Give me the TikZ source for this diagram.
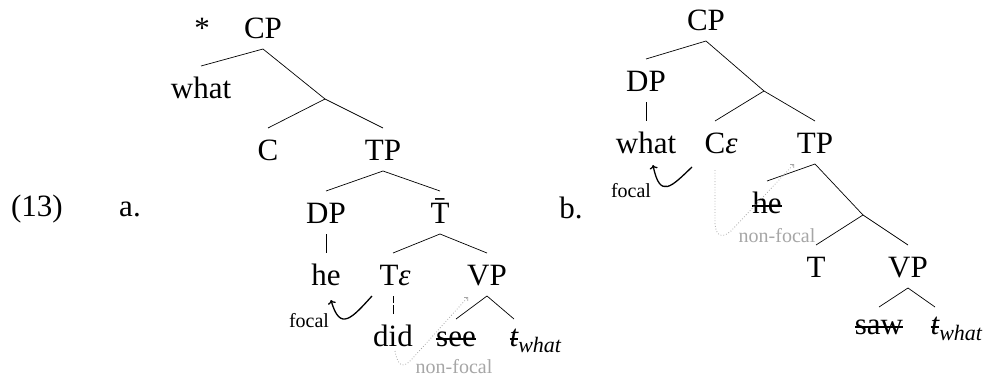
\documentclass[tikz,border=0pt]{standalone}
\usepackage{fontspec}
\setmainfont{Liberation Serif}
\usetikzlibrary{arrows.meta}
\newcommand{\strk}[1]{\setbox0\hbox{#1}\rlap{\raisebox{0.2em}{\rule{\wd0}{0.05em}}}\box0}
\newcommand{\twhat}{{\itshape\strk{t}\rlap{\raisebox{-0.22em}{\fontsize{22}{26}\selectfont what}}}}
\newcommand{\eps}[1]{#1\rlap{\itshape ε}}
\begin{document}
\begin{tikzpicture}[x=1pt,y=-1pt,
  lab/.style={font=\fontsize{31}{37}\selectfont, inner sep=0pt, anchor=base,
    text height=21pt, text depth=0pt, outer xsep=0pt, outer ysep=11pt},
  leaf/.style={lab, outer ysep=6pt},
  small/.style={font=\fontsize{20}{24}\selectfont, inner sep=0pt, anchor=base},
  br/.style={line width=0.7pt},
  focalarrow/.style={line width=1.3pt, -{To[length=4pt,width=8pt]}},
  nonfocal/.style={black!35, dotted, line width=0.8pt, -{Straight Barb[length=2.5pt,width=5pt]}},
  nftext/.style={small, text=black!35}
]
\useasboundingbox (0,0) rectangle (989,378);

% labels
\node[lab, outer ysep=0pt] (num) at (37,216) {(13)};
\node[lab, outer ysep=0pt] (la) at (130,216) {a.};
\node[lab, outer ysep=0pt] (lb) at (571,218) {b.};

% ---------- tree a ----------
\node[lab] (star) at (202,38) {*};
\node[lab] (CPa) at (263,38) {CP};
\node[lab] (whata) at (201,98) {what};
\coordinate (ia) at (325,99);
\node[lab] (Ca) at (268,160) {C};
\node[lab] (TPa) at (383,160) {TP};
\node[lab] (DPa) at (326,223) {DP};
\node[lab] (Tbar) at (440,223) {\=T};
\node[lab] (hea) at (326,285) {he};
\node[lab] (Tea) at (389,285) {\eps{T}};
\node[lab] (VPa) at (487,285) {VP};
\node[lab] (did) at (393,346) {did};
\node[leaf] (see) at (456,346) {\strk{see}};
\node[leaf] (twa) at (514,346) {\twhat};

\draw[br] (whata.north) -- (CPa.south) -- (ia);
\draw[br] (Ca.north) -- (ia) -- (TPa.north);
\draw[br] (DPa.north) -- (TPa.south) -- (Tbar.north);
\draw[br] (DPa.south) -- (hea.north);
\draw[br] ([xshift=4pt]Tea.north) -- (Tbar.south) -- (VPa.north);
\draw[br] (see.north) -- (VPa.south) -- (twa.north);
\draw[br, dash pattern=on 9pt off 2pt] (did.north) -- (did.north |- Tea.south);

\node[small] (focala) at (309,327) {focal};
\coordinate (fa1) at (372,296);
\coordinate (fa2) at (331,300);
\draw[focalarrow] (fa1) .. controls (352,318) and (340,332) .. (fa2);

\node[nftext] (nfa) at (454,373) {non-focal};
\coordinate (nfa1) at (395,351);
\coordinate (nfa2) at (468,297);
\draw[nonfocal] (nfa1) .. controls (398,368) and (404,368) .. (412,359) -- (nfa2);

% ---------- tree b ----------
\node[lab] (CPb) at (706,30) {CP};
\node[lab] (DPb) at (646,91) {DP};
\coordinate (ib) at (764,91);
\node[lab] (whatb) at (646,153) {what};
\node[lab] (Ceb) at (715,153) {\eps{C}};
\node[lab] (TPb) at (815,153) {TP};
\node[lab] (heb) at (767,213) {\strk{he}};
\coordinate (ib2) at (863,215);
\node[lab] (Tb) at (816,277) {T};
\node[lab] (VPb) at (908,277) {VP};
\node[leaf] (sawb) at (879,334) {\strk{saw}};
\node[leaf] (twb) at (935,334) {\twhat};

\draw[br] (DPb.north) -- (CPb.south) -- (ib);
\draw[br] (DPb.south) -- (whatb.north);
\draw[br] (Ceb.north) -- (ib) -- (TPb.north);
\draw[br] (heb.north) -- (TPb.south) -- (ib2);
\draw[br] (Tb.north) -- (ib2) -- (VPb.north);
\draw[br] (sawb.north) -- (VPb.south) -- (twb.north);

\node[small] (focalb) at (631,197) {focal};
\coordinate (fb1) at (692,167);
\coordinate (fb2) at (653,165);
\draw[focalarrow] (fb1) .. controls (672,186) and (660,200) .. (fb2);

\node[nftext] (nfb) at (777,242) {non-focal};
\coordinate (nfb1) at (715,170);
\coordinate (nfb2) at (794,164);
\draw[nonfocal] (nfb1) -- (715,224) .. controls (716,236) and (722,239) .. (731,231) -- (nfb2);
\end{tikzpicture}
\end{document}
